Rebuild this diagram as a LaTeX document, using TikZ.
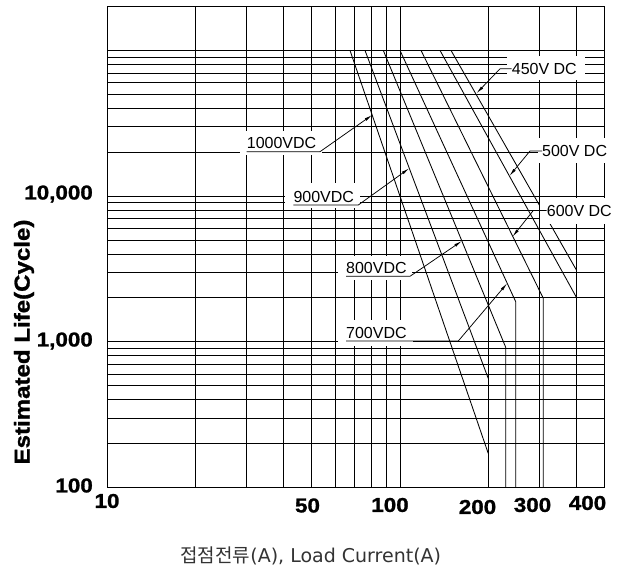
\documentclass[tikz,border=0pt]{standalone}
\usepackage{fontspec}
\usepackage{graphicx}
\setmainfont{Liberation Sans}
\newfontfamily\krfont{Noto Sans CJK KR}
\newfontfamily\latfont{DejaVu Sans}
\newfontfamily\heavyfont[FakeBold=1.2]{Liberation Sans Bold}
\usetikzlibrary{arrows.meta}
\newcommand{\axl}[1]{\scalebox{1.12}[1]{\heavyfont #1}}
\begin{document}
\begin{tikzpicture}[x=1pt,y=-1pt,
  gridline/.style={line width=0.9pt, black},
  lifecurve/.style={line width=0.85pt, black},
  vlabel/.style={font=\fontsize{16}{16}\selectfont, inner sep=0pt, anchor=base west},
  dlabel/.style={font=\fontsize{16}{16}\selectfont, inner sep=0pt, anchor=west},
  leadline/.style={line width=0.75pt, -{Latex[length=8pt,width=3pt]}},
  axtick/.style={font=\fontsize{20}{20}\selectfont, inner sep=0pt},
  whitebox/.style={fill=white}
]
\useasboundingbox (0,0) rectangle (622,577);

% horizontal grid
\foreach \k in {0,1,2}{
  \foreach \m in {2,...,9}{
    \pgfmathsetmacro\yy{487.5-145.7*(\k+ln(\m)/ln(10))}
    \draw[gridline] (107,\yy) -- (604.8,\yy);
  }
}
\foreach \k in {1,2,3}{
  \pgfmathsetmacro\yy{487.5-145.7*\k}
  \draw[gridline] (107,\yy) -- (604.8,\yy);
}
% vertical grid
\foreach \m in {2,...,9}{
  \pgfmathsetmacro\xx{107+293*ln(\m)/ln(10)}
  \draw[gridline] (\xx,6.5) -- (\xx,487.5);
}
\foreach \m in {1,2,3,4}{
  \pgfmathsetmacro\xx{400+293*ln(\m)/ln(10)}
  \draw[gridline] (\xx,6.5) -- (\xx,487.5);
}
% frame
\draw[gridline] (107,6.5) rectangle (604.8,487.5);

% life curves
\draw[lifecurve] (350,50.4) -- (488.2,453.3);
\draw[lifecurve] (365,50.4) -- (488.2,378.3);
\draw[lifecurve] (383.3,50.4) -- (505.7,347.3) -- (505.7,487.5);
\draw[lifecurve] (400,50.4) -- (515.7,301.7) -- (515.7,487.5);
\draw[lifecurve] (421,50.4) -- (543.3,298.3) -- (543.3,487.5);
\draw[lifecurve] (440,50.4) -- (576.4,297.3);
\draw[lifecurve] (451,50.4) -- (576.4,270);

% white label boxes
\fill[whitebox] (240,131) rectangle (322,155);
\fill[whitebox] (285,183) rectangle (360,208);
\fill[whitebox] (338,256) rectangle (412,280);
\fill[whitebox] (338,320) rectangle (413,346);
\fill[whitebox] (507,56) rectangle (585,80);
\fill[whitebox] (538,138) rectangle (611,163);
\fill[whitebox] (540,198) rectangle (612,224);

% labels
\node[vlabel] (l1000) at (246.7,149) {1000VDC};
\node[vlabel] (l900) at (293.3,202.5) {900VDC};
\node[vlabel] (l800) at (346,274) {800VDC};
\node[vlabel] (l700) at (346,339) {700VDC};
\node[dlabel] (l450) at (511.7,68.8) {450V DC};
\node[dlabel] (l500) at (542,151) {500V DC};
\node[dlabel] (l600) at (546.7,210.5) {600V DC};

% arrow targets on curves and knees
\coordinate (t1000) at (372.2,115);
\coordinate (t900) at (409.3,168.3);
\coordinate (t800) at (461.9,241);
\coordinate (t700) at (507.2,283.3);
\coordinate (t600) at (512.5,236.7);
\coordinate (t500) at (509.4,176);
\coordinate (t450) at (476.5,93.3);
\coordinate (k1000) at (320,151.7);
\coordinate (k900) at (358.3,205);
\coordinate (k800) at (410,276.3);
\coordinate (k700) at (458.3,341);
\coordinate (k450) at (500,68.8);
\coordinate (k500) at (530,151);
\coordinate (k600) at (533.3,210.5);

\draw[leadline] (l1000.base west |- k1000) -- (k1000) -- (t1000);
\draw[leadline] (l900.base west |- k900) -- (k900) -- (t900);
\draw[leadline] (l800.base west |- k800) -- (k800) -- (t800);
\draw[leadline] (l700.base west |- k700) -- (k700) -- (t700);
\draw[leadline] (l450.west) -- (k450) -- (t450);
\draw[leadline] (l500.west) -- (k500) -- (t500);
\draw[leadline] (l600.west) -- (k600) -- (t600);

% axis tick labels
\node[axtick, anchor=east] (y4) at (93,194) {\axl{10,000}};
\node[axtick, anchor=east] (y3) at (93,341) {\axl{1,000}};
\node[axtick, anchor=east] (y2) at (93,485.5) {\axl{100}};
\node[axtick] (x10) at (107,501) {\axl{10}};
\node[axtick] (x50) at (307.5,505.5) {\axl{50}};
\node[axtick] (x100) at (390,505) {\axl{100}};
\node[axtick] (x200) at (477.5,507) {\axl{200}};
\node[axtick] (x300) at (532.5,505) {\axl{300}};
\node[axtick] (x400) at (587.5,503) {\axl{400}};

% axis titles
\node[rotate=90, inner sep=0pt, font=\fontsize{21.5}{21.5}\selectfont] (ytitle) at (24,342) {\axl{Estimated Life(Cycle)}};
\node[inner sep=0pt, text=black!80] (xtitle) at (310.8,556) {\krfont\fontsize{19}{19}\selectfont 접점전류\latfont\fontsize{19}{19}\selectfont (A), Load Current(A)};
\end{tikzpicture}
\end{document}
